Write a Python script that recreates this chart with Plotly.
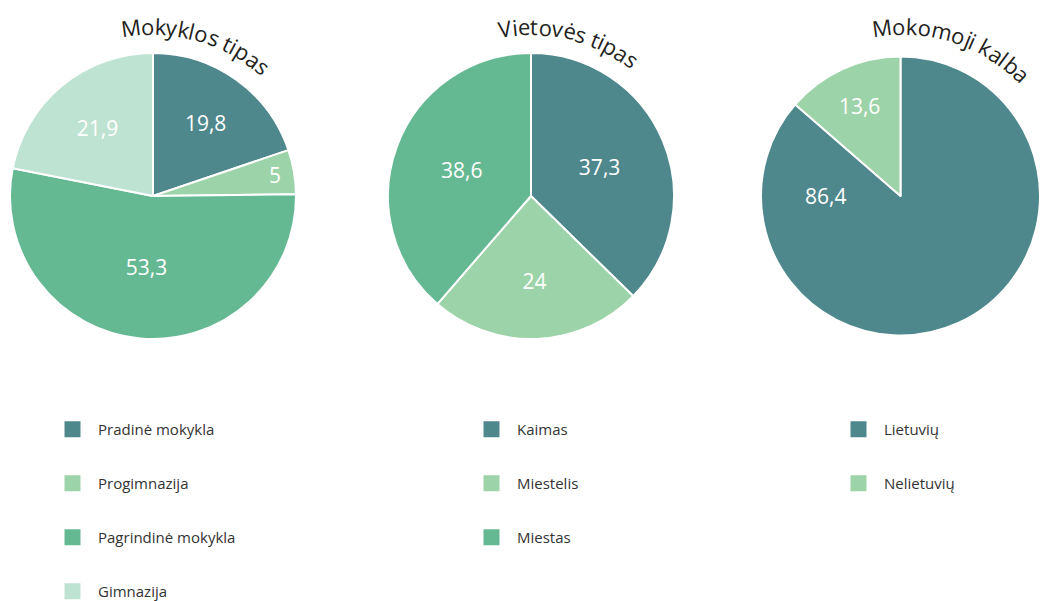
import math
import plotly.graph_objects as go

W, H = 1040, 601

school_types = ["Pradinė mokykla", "Progimnazija", "Pagrindinė mokykla", "Gimnazija"]
school_shares = [19.8, 5, 53.3, 21.9]
area_types = ["Kaimas", "Miestelis", "Miestas"]
area_shares = [37.3, 24, 38.6]
languages = ["Lietuvių", "Nelietuvių"]
language_shares = [86.4, 13.6]
titles = ["Mokyklos tipas", "Vietovės tipas", "Mokomoji kalba"]

DARK, LIGHT, MID, PALE = "#4E878C", "#9DD3A8", "#65B992", "#BFE3D2"
FONT = "Open Sans"

pies = [
    (school_types, school_shares, [DARK, LIGHT, MID, PALE], 153, "legend"),
    (area_types, area_shares, [DARK, LIGHT, MID], 531, "legend2"),
    (languages, language_shares, [DARK, LIGHT], 904, "legend3"),
]
CY, R = 196, 143


def fmt(v):
    return ("%g" % v).replace(".", ",")


# rough Open Sans advance widths (em) for the curved titles
WIDTHS = {"M": 0.903, "o": 0.602, "k": 0.521, "y": 0.5, "l": 0.258, "s": 0.479,
          " ": 0.26, "t": 0.352, "i": 0.258, "p": 0.613, "a": 0.556, "V": 0.584,
          "e": 0.561, "ė": 0.561, "v": 0.5, "m": 0.932, "j": 0.258, "b": 0.613}


def arc_title(text, cx, size=22, radius=170, start=-11):
    anns = []
    pos = 0.0
    for ch in text:
        w = WIDTHS.get(ch, 0.55) * size
        ang = math.radians(start) + (pos + w / 2) / (radius - 6)
        pos += w
        if ch == " ":
            continue
        x = cx + radius * math.sin(ang)
        y = CY - radius * math.cos(ang)
        anns.append(dict(text=ch, x=x / W, y=1 - y / H, xref="paper", yref="paper",
                         showarrow=False, xanchor="center", yanchor="middle",
                         textangle=math.degrees(ang),
                         font=dict(family=FONT, size=size, color="#231F20")))
    return anns


fig = go.Figure()
annotations = []
for (labels, values, colors, cx, leg), title in zip(pies, titles):
    texts = [fmt(v) for v in values]
    big_label = None
    if leg == "legend3":
        # the big slice's value sits on the left side of the pie in the source
        big_label, texts[0] = texts[0], ""
    x0, x1 = (cx - R) / W, min((cx + R) / W, 1.0)
    fig.add_trace(go.Pie(
        labels=labels, values=values, text=texts,
        textinfo="text", textposition="inside", insidetextorientation="horizontal",
        sort=False, direction="clockwise", rotation=0,
        marker=dict(colors=colors, line=dict(color="white", width=2)),
        textfont=dict(family=FONT, size=21, color="white"),
        domain=dict(x=[x0, x1], y=[1 - (CY + R) / H, 1 - (CY - R) / H]),
        showlegend=False, hoverinfo="label+value",
    ))
    if big_label:
        annotations.append(dict(text=big_label, x=(cx - 0.55 * R) / W, y=1 - CY / H,
                                xref="paper", yref="paper", showarrow=False,
                                xanchor="center", yanchor="middle",
                                font=dict(family=FONT, size=21, color="white")))
    # legend entries as square markers
    for i, (lab, col) in enumerate(zip(labels, colors)):
        fig.add_trace(go.Scatter(
            x=[None], y=[None], mode="markers", name=lab, legend=leg,
            legendgroup=leg + str(i),
            marker=dict(symbol="square", size=19, color=col),
        ))
    annotations += arc_title(title, cx)

legend_style = dict(font=dict(family=FONT, size=15, color="#333333"),
                    tracegroupgap=31.5, yanchor="top", xanchor="left", itemwidth=41,
                    y=1 - 413 / H, bgcolor="rgba(0,0,0,0)", itemclick=False)

fig.update_layout(
    width=W, height=H,
    # the first legend runs off the bottom edge like in the source, keep margins fixed
    margin=dict(l=0, r=0, t=0, b=0, autoexpand=False),
    paper_bgcolor="white", plot_bgcolor="white",
    xaxis=dict(visible=False), yaxis=dict(visible=False),
    annotations=annotations,
    legend=dict(x=47 / W, **legend_style),
    legend2=dict(x=466 / W, **legend_style),
    legend3=dict(x=833 / W, **legend_style),
)

fig.write_html("out.html", config={"displayModeBar": False},
               post_script="document.body.style.margin='0';document.body.style.overflow='hidden';")
